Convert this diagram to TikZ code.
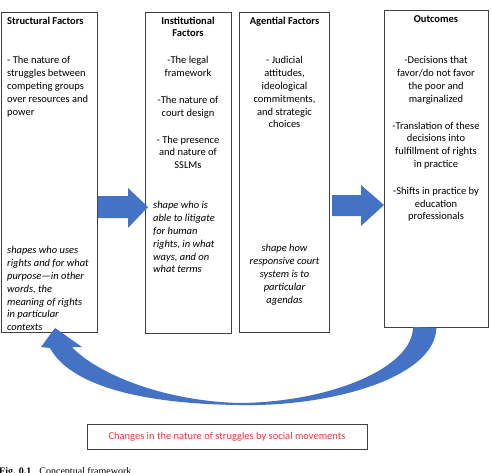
\documentclass[tikz,border=0pt]{standalone}
\usepackage{fontspec}
\setmainfont{Carlito}
\newfontfamily\capfont{Liberation Serif}
\usetikzlibrary{positioning}

\definecolor{flowblue}{RGB}{68,114,196}
\definecolor{framegray}{RGB}{64,64,64}
\definecolor{notered}{RGB}{228,58,58}

\begin{document}
\begin{tikzpicture}[x=1pt,y=-1pt,
    panel/.style={draw=framegray,line width=0.8pt,inner sep=0pt,anchor=north west},
    head/.style={font=\fontsize{10.5}{12.8}\selectfont\bfseries,inner sep=0pt,align=center,anchor=north},
    body/.style={font=\fontsize{10.5}{12.8}\selectfont,inner sep=0pt,align=center,anchor=north},
    note/.style={font=\fontsize{10.5}{12.8}\selectfont\itshape,inner sep=0pt,align=center,anchor=north},
    flow/.style={fill=flowblue}]
    \useasboundingbox (0,0) rectangle (492,472);
    \clip (0,0) rectangle (492,472);

    % the four boxes
    \node[panel,minimum width=96pt,minimum height=320pt] (structural) at (1,12) {};
    \node[panel,minimum width=86pt,minimum height=321pt] (institutional) at (145,12) {};
    \node[panel,minimum width=90pt,minimum height=320pt] (agential) at (239,12) {};
    \node[panel,minimum width=104pt,minimum height=317pt] (outcomes) at (384,10) {};

    \node[head,anchor=north west] (structuralHead) at (7,16.5) {Structural Factors};
    \node[body,anchor=north west,align=left] (structuralBody) at (7,56.5)
        {- The nature of\\struggles between\\competing groups\\over resources and\\power};
    \node[note,anchor=north west,align=left] (structuralNote) at (7,246.5)
        {shapes who uses\\rights and for what\\purpose—in other\\words, the\\meaning of rights\\in particular\\contexts};

    \node[head] (institutionalHead) at (188,16.5) {Institutional\\Factors};
    \node[body] (institutionalBody) at (188,56.5)
        {-The legal\\framework\\[14pt]-The nature of\\court design\\[14pt]- The presence\\and nature of\\SSLMs};
    \node[note,anchor=north west,align=left] (institutionalNote) at (153,201.5)
        {shape who is\\able to litigate\\for human\\rights, in what\\ways, and on\\what terms};

    \node[head] (agentialHead) at (284.5,16.5) {Agential Factors};
    \node[body] (agentialBody) at (284.5,56.5)
        {- Judicial\\attitudes,\\ideological\\commitments,\\and strategic\\choices};
    \node[note] (agentialNote) at (284.5,244.5)
        {shape how\\responsive court\\system is to\\particular\\agendas};

    \node[head] (outcomesHead) at (436,15.5) {Outcomes};
    \node[body] (outcomesBody) at (436,56.5)
        {-Decisions that\\favor/do not favor\\the poor and\\marginalized\\[14pt]-Translation of these\\decisions into\\fulfillment of rights\\in practice\\[14pt]-Shifts in practice by\\education\\professionals};

    % arrows between the boxes
    \fill[flow] (structural.east |- 0,196) -- (128,196) -- (128,188) -- (148,207)
        -- (128,228) -- (128,218) -- (structural.east |- 0,218) -- cycle;
    \fill[flow] (332,195) -- (361,195) -- (361,185) -- (outcomes.west |- 0,205)
        -- (361,226) -- (361,216) -- (332,216) -- cycle;

    % feedback arrow
    \fill[flow] (outcomes.south) .. controls (435,378) and (330,407) .. (240,405)
        .. controls (140,404) and (70,385) .. (50,348)
        -- (41,347) -- (55,328) -- (82,347) -- (72,347)
        .. controls (95,372) and (160,401) .. (240,403)
        .. controls (330,402) and (413,368) .. (413,327) -- cycle;

    \node[draw=framegray,line width=0.8pt,minimum width=280pt,minimum height=25pt,inner sep=0pt,
        text=notered,font=\fontsize{10.5}{12.8}\selectfont] (changes) at (227,436.5)
        {Changes in the nature of struggles by social movements};

    \node[anchor=north west,inner sep=0pt,font=\capfont\fontsize{10}{12}\selectfont] (caption) at (-1,467.5)
        {\textbf{Fig. 0.1}\hspace{0.8em}Conceptual framework};
\end{tikzpicture}
\end{document}
